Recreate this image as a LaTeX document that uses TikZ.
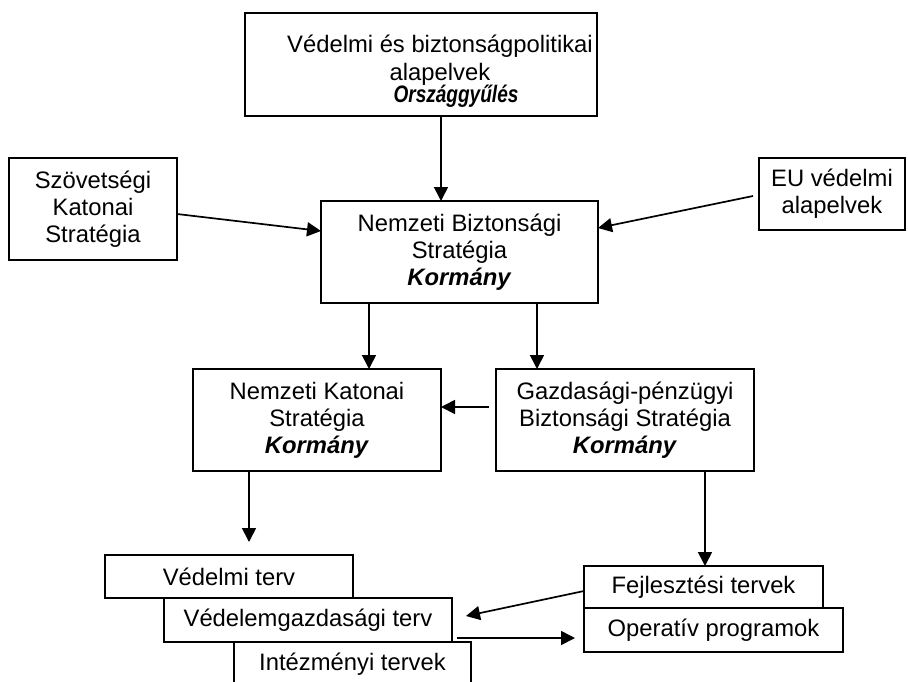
\documentclass[tikz,border=0pt]{standalone}
\usepackage{graphicx}
\usepackage{fontspec}
\setmainfont{Liberation Sans}
\usetikzlibrary{arrows.meta,calc}

\tikzset{
  box/.style={draw, line width=1.7pt, rectangle, inner sep=0pt, outer sep=0pt,
    align=center, font=\fontsize{23.8}{27}\selectfont},
  label text/.style={inner sep=0pt, align=center, font=\fontsize{23.8}{28}\selectfont},
  arr/.style={line width=1.7pt, -{Triangle[length=14pt,width=14pt]}}
}
\newcommand{\inst}[1]{\textbf{\textit{#1}}}

\begin{document}
\begin{tikzpicture}[x=1pt,y=-1pt]
  \useasboundingbox (0,0) rectangle (908,681);

  % top level
  \node[box, minimum width=352, minimum height=103] (top) at (421,64.5) {};
  \node[label text, anchor=north] (toptext) at (440,34.5)
    {Védelmi és biztonságpolitikai\\ alapelvek\\[-6pt]
     \hspace*{32pt}\scalebox{0.8}[1]{\inst{Országgyűlés}}};

  % second level: national security strategy and its external inputs
  \node[box, minimum width=168, minimum height=102] (szov) at (93,209)
    {Szövetségi\\ Katonai\\ Stratégia};
  \node[box, minimum width=277, minimum height=102] (nbs) at (459.5,252)
    {Nemzeti Biztonsági\\ Stratégia\\ \inst{Kormány}};
  \node[box, minimum width=146, minimum height=72] (eu) at (832,194)
    {EU védelmi\\ alapelvek};

  % sector strategies
  \node[box, minimum width=248, minimum height=102] (nks) at (317,420)
    {Nemzeti Katonai\\ Stratégia\\ \inst{Kormány}};
  \node[box, minimum width=258, minimum height=102] (gpb) at (625,420)
    {Gazdasági-pénzügyi\\ Biztonsági Stratégia\\ \inst{Kormány}};

  % plans, left stack
  \node[box, minimum width=248, minimum height=43] (vt) at (229,576.5) {Védelmi terv};
  \node[box, minimum width=288, minimum height=44] (vg) at (308,620) {Védelemgazdasági terv};
  \node[box, minimum width=237, minimum height=44] (it) at (352.5,664) {Intézményi tervek};

  % plans, right stack
  \node[box, minimum width=239, minimum height=42] (fej) at (703.5,587) {Fejlesztési tervek};
  \node[box, minimum width=259, minimum height=44] (op) at (713.5,630) {Operatív programok};

  % connectors
  \draw[arr] ($(top.south)+(20,0)$) -- ($(nbs.north)+(-18.5,0)$);
  \draw[arr] ($(szov.east)+(0,5)$) -- ($(nbs.west)+(0,-21)$);
  \draw[arr] ($(eu.west)+(-6,2)$) -- ($(nbs.east)+(0,-24)$);
  \draw[arr] ($(nbs.south)+(-90.5,0)$) -- ($(nks.north)+(52,0)$);
  \draw[arr] ($(nbs.south)+(77.5,0)$) -- ($(gpb.north)+(-88,0)$);
  \draw[arr] ($(gpb.west)+(-7,-13)$) -- ($(nks.east)+(0,-13)$);
  \draw[arr] ($(nks.south)+(-68,0)$) -- ($(vt.north)+(20,-13)$);
  \draw[arr] ($(gpb.south)+(80,0)$) -- ($(fej.north)+(1.5,0)$);
  \draw[arr] ($(fej.west)+(0,4)$) -- ($(vg.east)+(14,-4)$);
  \draw[arr] ($(vg.east)+(5,18)$) -- ($(op.west)+(-9,8)$);
\end{tikzpicture}
\end{document}
